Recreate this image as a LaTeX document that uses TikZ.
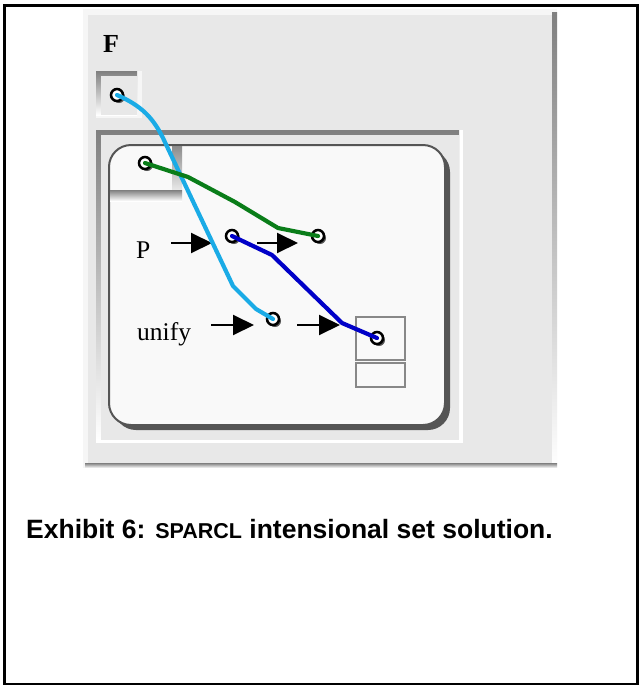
\documentclass[tikz,border=0pt]{standalone}
\usepackage{fontspec}
\setmainfont{Liberation Serif}
\newfontfamily\capfont{Liberation Sans}
\usetikzlibrary{arrows.meta,shadows}
\definecolor{panel}{RGB}{232,232,232}
\definecolor{hilite}{RGB}{246,246,246}
\definecolor{shade}{RGB}{119,119,119}
\definecolor{boxfill}{RGB}{249,249,249}
\definecolor{boxedge}{RGB}{85,85,85}
\definecolor{resedge}{RGB}{136,136,136}
\definecolor{wcyan}{RGB}{26,171,230}
\definecolor{wgreen}{RGB}{10,125,25}
\definecolor{wblue}{RGB}{0,0,200}
\tikzset{
  port/.style={circle,draw=black,line width=2.5pt,fill=white,minimum size=12pt,inner sep=0pt,
    drop shadow={shadow xshift=2pt,shadow yshift=-2pt,fill=boxedge,opacity=1}},
  wire/.style={line width=4.2pt,line join=round,line cap=round},
  flow/.style={line width=2pt,-{Triangle[length=21pt,width=20pt]}},
  lbl/.style={inner sep=0pt,anchor=base west,font=\fontsize{25.5}{30}\selectfont},
}
\begin{document}
\begin{tikzpicture}[x=1pt,y=-1pt]
\useasboundingbox (0,0) rectangle (638,686);
\fill[white] (0,0) rectangle (638,686);
% outer frame
\draw[black,line width=2.6pt] (4.5,5.5) rectangle (637.5,684);
% F panel
\fill[hilite] (83,9) rectangle (557,468);
\fill[shade] (552,12) rectangle (557,468);
\fill[shade] (85,463) rectangle (557,468);
\fill[panel] (88,15) rectangle (552,463);
\node[inner sep=0pt,anchor=base west,font=\fontsize{26}{30}\selectfont\bfseries] (F) at (103,52) {F};
% small port box
\fill[hilite] (96,71) rectangle (142,118);
\fill[shade] (96,71) rectangle (137,115);
\fill[panel] (101,76) rectangle (137,115);
% inner panel
\fill[white] (96,130) rectangle (463,443);
\fill[shade] (96,130) rectangle (459,440);
\fill[panel] (101,135) rectangle (459,440);
% rounded process box
\fill[boxedge,rounded corners=22pt] (114,150) rectangle (450,430);
\path[fill=boxfill,draw=boxedge,line width=2pt,rounded corners=22pt] (109,145) rectangle (445,425);
\begin{scope}
\clip[rounded corners=22pt] (110,146) rectangle (444,424);
\fill[shade] (172,140) rectangle (182,201);
\fill[shade] (100,190) rectangle (182,201);
\end{scope}
% result boxes
\draw[resedge,line width=2pt,fill=boxfill] (356,317) rectangle (405,360);
\draw[resedge,line width=2pt,fill=boxfill] (356,363) rectangle (405,387);
% labels
\node[lbl] (P) at (136,258) {P};
\node[lbl] (U) at (137,340) {unify};
% flow arrows
\coordinate (a1s) at (171,243); \coordinate (a1e) at (212,243);
\coordinate (a2s) at (257,243); \coordinate (a2e) at (298,243);
\coordinate (a3s) at (211,325); \coordinate (a3e) at (254,325);
\coordinate (a4s) at (297,325); \coordinate (a4e) at (340,325);
\draw[flow] (a1s) -- (a1e);
\draw[flow] (a2s) -- (a2e);
\draw[flow] (a3s) -- (a3e);
\draw[flow] (a4s) -- (a4e);
% ports
\node[port] (c1) at (117,95) {};
\node[port] (c2) at (145,163) {};
\node[port] (c3) at (232,236) {};
\node[port] (c4) at (318,236) {};
\node[port] (c5) at (273,319) {};
\node[port] (c6) at (377,338) {};
% wires
\draw[wire,wcyan] (c1.center) .. controls (142,106) and (153,118) .. (163,138) -- (233,286) -- (256,309) -- (c5.center);
\draw[wire,wgreen] (c2.center) -- (188,177) -- (235,202) -- (278,228) -- (c4.center);
\draw[wire,wblue] (c3.center) -- (272,255) -- (308,290) -- (342,323) -- (c6.center);
% caption
\node[inner sep=0pt,anchor=base west,font=\capfont\bfseries\fontsize{26.5}{32}\selectfont] (cap) at (26,538)
  {Exhibit 6: {\fontsize{21.5}{26}\selectfont SPARCL} intensional set solution.};
\end{tikzpicture}
\end{document}
